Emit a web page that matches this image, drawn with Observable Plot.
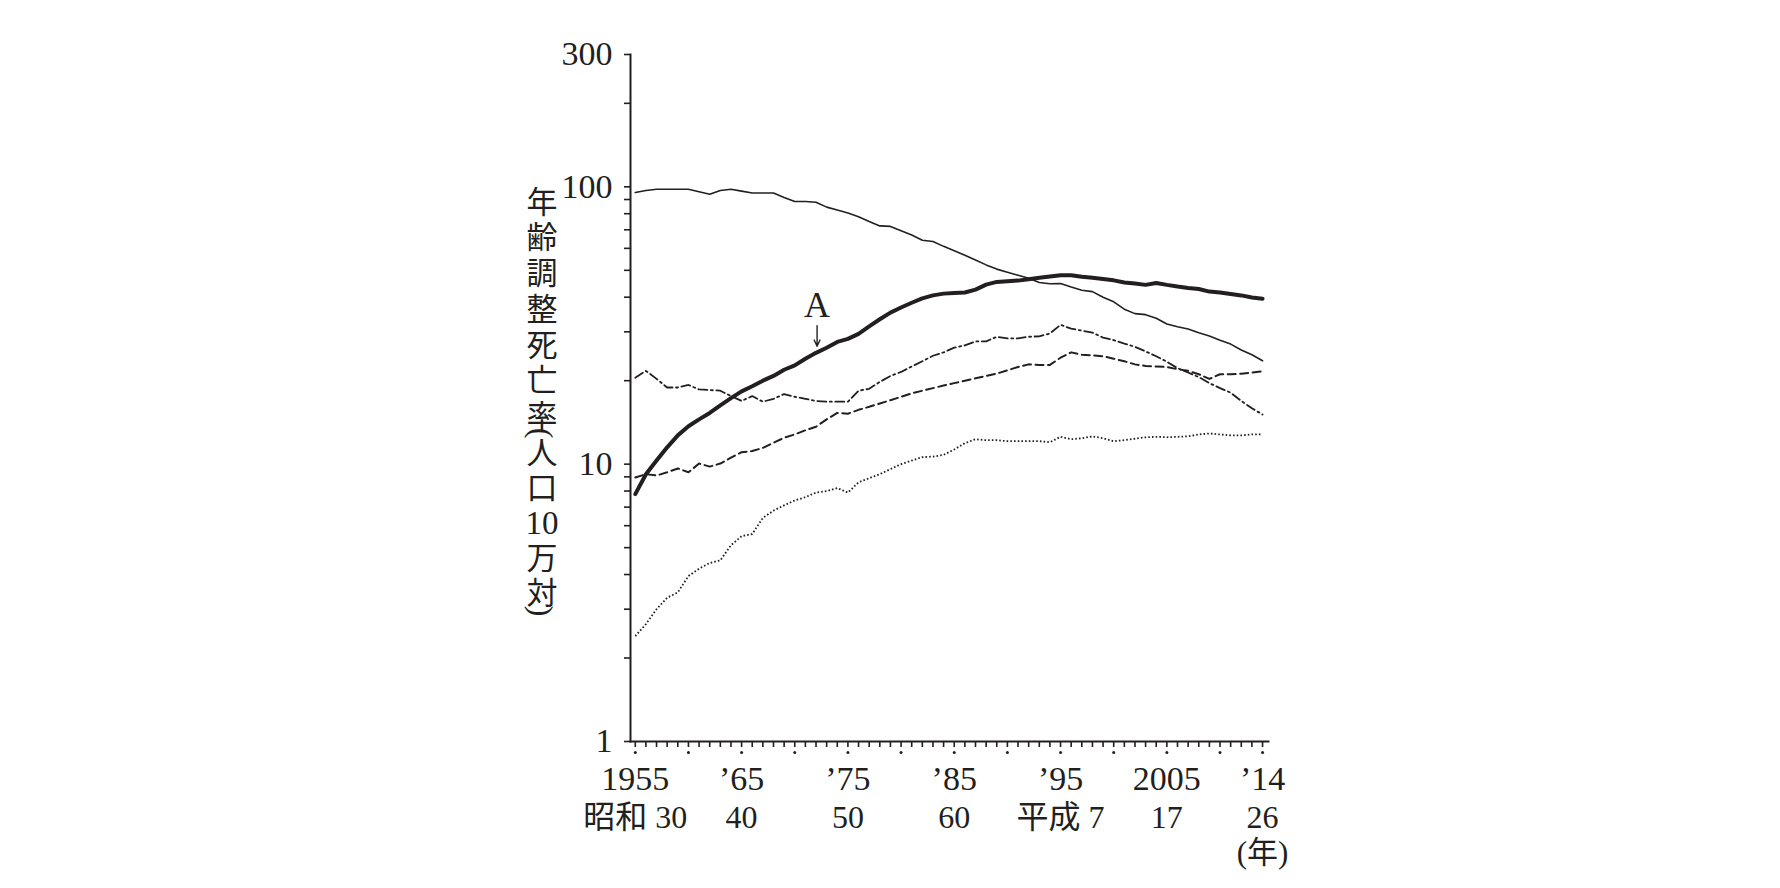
<!DOCTYPE html>
<html><head><meta charset="utf-8">
<script src="https://cdn.jsdelivr.net/npm/d3@7"></script>
<script src="https://cdn.jsdelivr.net/npm/@observablehq/plot@0.6"></script>
<style>body{margin:0;background:#fff}</style>
</head><body><div id="chart"></div>
<script>
// ---- data ----
const years = d3.range(1955, 2015);

const solidThin = [
  95.4, 97, 98, 98, 98, 98, 96, 94, 97, 98, 96.5, 95, 95, 95, 91.5, 88.5, 88.5, 88, 84.5, 82.5,
  80.5, 78, 75, 72.3, 72, 69.5, 67, 64.2, 63.5, 61, 58.8, 56.7, 54.5, 52.3, 50.5, 49.2, 48, 46.8, 45.2, 44.7,
  44.8, 43.5, 42.4, 41.9, 40, 38.5, 36.2, 34.9, 34.6, 33.6, 32, 31.3, 30.7, 29.8, 29, 28, 27.1, 25.8, 24.8, 23.6
];
const solidThickA = [
  7.8, 9.2, 10.3, 11.5, 12.7, 13.7, 14.5, 15.3, 16.3, 17.3, 18.3, 19.1, 20.0, 20.8, 21.9, 22.7, 24.0, 25.2, 26.3, 27.6,
  28.3, 29.5, 31.4, 33.3, 35.2, 36.7, 38.2, 39.6, 40.6, 41.2, 41.4, 41.6, 42.6, 44.4, 45.4, 45.7, 45.9, 46.4, 47.0, 47.5,
  48.0, 48.0, 47.4, 47.0, 46.5, 46.0, 45.2, 44.8, 44.3, 45.0, 44.3, 43.7, 43.2, 42.8, 41.9, 41.6, 41.1, 40.6, 39.9, 39.5
];
const dashDot = [
  20.5, 21.7, 20.3, 18.9, 18.9, 19.3, 18.6, 18.5, 18.4, 17.6, 16.9, 17.6, 16.8, 17.2, 17.9, 17.5, 17.2, 16.9, 16.8, 16.8,
  16.8, 18.4, 18.7, 19.8, 20.8, 21.5, 22.5, 23.5, 24.6, 25.3, 26.3, 26.8, 27.7, 27.7, 28.8, 28.4, 28.4, 28.8, 28.9, 29.6,
  31.8, 30.8, 30.3, 29.8, 28.6, 28.0, 27.2, 26.5, 25.5, 24.5, 23.4, 22.2, 21.4, 20.6, 19.6, 18.8, 18.1, 16.9, 15.9, 15.1
];
const dashed = [
  8.95, 9.2, 9.1, 9.35, 9.65, 9.35, 10.05, 9.8, 10.05, 10.55, 11.05, 11.15, 11.45, 11.95, 12.45, 12.8, 13.25, 13.65, 14.5, 15.3,
  15.2, 15.7, 16.1, 16.55, 17.0, 17.5, 18.0, 18.4, 18.8, 19.2, 19.6, 20.0, 20.4, 20.8, 21.2, 21.8, 22.4, 22.9, 22.8, 22.8,
  24.2, 25.3, 24.8, 24.7, 24.5, 24.0, 23.5, 22.9, 22.6, 22.5, 22.4, 22.0, 21.7, 21.1, 20.3, 21.1, 21.1, 21.2, 21.4, 21.6
];
const dotted = [
  2.4, 2.65, 3.0, 3.3, 3.45, 3.95, 4.2, 4.4, 4.5, 5.1, 5.5, 5.6, 6.4, 6.8, 7.1, 7.4, 7.6, 7.9, 8.0, 8.2,
  7.9, 8.6, 8.9, 9.2, 9.6, 10.0, 10.3, 10.6, 10.65, 10.8, 11.3, 11.9, 12.3, 12.2, 12.2, 12.1, 12.1, 12.1, 12.1, 12.0,
  12.55, 12.3, 12.4, 12.6, 12.4, 12.1, 12.2, 12.35, 12.5, 12.55, 12.5, 12.55, 12.6, 12.8, 12.9, 12.8, 12.7, 12.7, 12.8, 12.8
];

const yTickValues = [1,2,3,4,5,6,7,8,9,10,20,30,40,50,60,70,80,90,100,200,300];
const yLabelValues = [1, 10, 100, 300];
const xTickYears = years;
const xDotYears = [1955,1960,1965,1970,1975,1980,1985,1990,1995,2000,2005,2010,2014];
const xLabelYears = [1955, 1965, 1975, 1985, 1995, 2005, 2014];
const xLabelRow1 = ["1955", "’65", "’75", "’85", "’95", "2005", "’14"];
const xLabelRow2 = ["昭和 30", "40", "50", "60", "平成 7", "17", "26"];
const xUnitLabel = "(年)";
const xUnitYear = 2014;
// y title "年齢調整死亡率（人口10万対）" split into runs
const yTitleRuns = [
  {text: "年齢調整死亡率", kind: "cjk"},
  {text: "(", kind: "paren"},
  {text: "人口", kind: "cjk"},
  {text: "10", kind: "num"},
  {text: "万対", kind: "cjk"},
  {text: ")", kind: "paren"}
];
const annotLabel = "A";
const annotYear = 1972.1;
const annotArrowFrom = 31.6;
const annotArrowTo = 26.6;
const annotLabelValue = 33.8;

// ---- tables ----
const toRows = vals => years.map((y, i) => ({year: y, value: vals[i]}));
const xLabels = xLabelYears.map((y, i) => ({year: y, top: xLabelRow1[i], bottom: xLabelRow2[i]}));

const ink = "#231f20";
const serif = "'Liberation Serif', 'Noto Sans CJK JP', serif";

const chart = Plot.plot({
  width: 1780,
  height: 888,
  marginLeft: 630,
  marginRight: 512,
  marginTop: 54,
  marginBottom: 147,
  style: {background: "#fff", fontFamily: serif, fontSize: "33px", color: ink, overflow: "visible"},
  x: {domain: [1954.55, 2014.56]},
  y: {type: "log", domain: [1, 300]},
  marks: [
    Plot.frame({anchor: "left", stroke: ink, strokeWidth: 2}),
    Plot.frame({anchor: "bottom", stroke: ink, strokeWidth: 2}),
    Plot.axisY({ticks: yTickValues, tickSize: 6, tickPadding: 12, strokeWidth: 1.6, stroke: ink,
      fontSize: 34, fill: ink, label: null,
      tickFormat: d => yLabelValues.includes(d) ? String(d) : ""}),
    Plot.axisX({ticks: xTickYears, tickSize: 6, strokeWidth: 1.6, stroke: ink, label: null, tickFormat: () => ""}),
    Plot.dot(xDotYears, {x: d => d, frameAnchor: "bottom", dy: 11, r: 1.5, fill: ink, stroke: null}),
    Plot.text(xLabels, {x: "year", text: "top", frameAnchor: "bottom", dy: 48, lineAnchor: "bottom",
      fontSize: 34, fill: ink, textAnchor: "middle"}),
    Plot.text(xLabels, {x: "year", text: "bottom", frameAnchor: "bottom", dy: 86, lineAnchor: "bottom",
      fontSize: 32, fill: ink, textAnchor: "middle"}),
    Plot.text([xUnitYear], {x: d => d, text: () => xUnitLabel, frameAnchor: "bottom", dy: 121, lineAnchor: "bottom",
      fontSize: 31, fill: ink, textAnchor: "middle"}),
    Plot.line(toRows(dotted), {x: "year", y: "value", stroke: ink, strokeWidth: 1.8,
      strokeDasharray: "1.6,2.1", strokeLinecap: "butt"}),
    Plot.line(toRows(dashed), {x: "year", y: "value", stroke: ink, strokeWidth: 2,
      strokeDasharray: "8,4.5"}),
    Plot.line(toRows(dashDot), {x: "year", y: "value", stroke: ink, strokeWidth: 1.8,
      strokeDasharray: "9,3.5,2,3.5"}),
    Plot.line(toRows(solidThin), {x: "year", y: "value", stroke: ink, strokeWidth: 1.6}),
    Plot.line(toRows(solidThickA), {x: "year", y: "value", stroke: ink, strokeWidth: 4}),
    Plot.arrow([annotYear], {x1: d => d, x2: d => d, y1: () => annotArrowFrom, y2: () => annotArrowTo,
      stroke: ink, strokeWidth: 1.4, headLength: 8, headAngle: 50}),
    Plot.text([annotYear], {x: d => d, y: () => annotLabelValue, text: () => annotLabel,
      lineAnchor: "bottom", fontSize: 36, fill: ink, textAnchor: "middle"})
  ]
});

document.getElementById("chart").appendChild(chart);

// ---- vertical y-axis title (SVG vertical writing, one text per run) ----
const svg = d3.select(chart);
const g = svg.append("g").attr("fill", ink);
const titleX = 542;
// layout of the runs along the vertical axis (centre of first glyph of each run)
const runLayout = [
  {center: 201, gap: 4.7},   // 年齢調整死亡率
  {center: 433},             // (
  {center: 452, gap: 4.5},   // 人口
  {center: 523},             // 10
  {center: 557, gap: 4},     // 万対
  {center: 611}              // )
];
const cjkSize = 31;
yTitleRuns.forEach((run, i) => {
  const L = runLayout[i];
  if (run.kind === "cjk") {
    g.append("text")
      .attr("x", titleX).attr("y", L.center - cjkSize / 2)
      .attr("text-anchor", "start")
      .style("writing-mode", "vertical-rl")
      .style("font-family", "'Noto Sans CJK JP', sans-serif")
      .style("font-size", cjkSize + "px")
      .style("letter-spacing", L.gap + "px")
      .text(run.text);
  } else if (run.kind === "paren") {
    g.append("text")
      .attr("x", titleX).attr("y", L.center)
      .attr("text-anchor", "middle")
      .attr("dominant-baseline", "central")
      .attr("transform", `rotate(90, ${titleX}, ${L.center})`)
      .style("font-family", "'Liberation Serif', serif")
      .style("font-size", "32px")
      .text(run.text);
  } else {
    g.append("text")
      .attr("x", titleX).attr("y", L.center + 0.33 * 33)
      .attr("text-anchor", "middle")
      .style("font-family", "'Liberation Serif', serif")
      .style("font-size", "33px")
      .text(run.text);
  }
});
</script>
</body></html>
